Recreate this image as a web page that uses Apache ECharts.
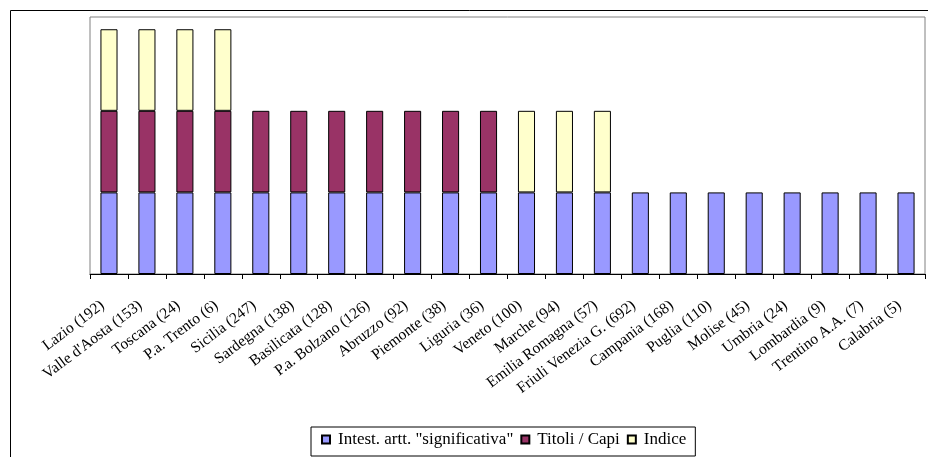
<!DOCTYPE html>
<html>
<head>
<meta charset="utf-8">
<script src="https://cdn.jsdelivr.net/npm/echarts@6/dist/echarts.min.js"></script>
<style>
  html, body { margin: 0; padding: 0; background: #fff; }
  #chart { width: 928px; height: 457px; }
</style>
</head>
<body>
<div id="chart"></div>
<script>
// Regions (number of cases in brackets)
const categories = [
  "Lazio (192)", "Valle d'Aosta (153)", "Toscana (24)", "P.a. Trento (6)",
  "Sicilia (247)", "Sardegna (138)", "Basilicata (128)", "P.a. Bolzano (126)",
  "Abruzzo (92)", "Piemonte (38)", "Liguria (36)", "Veneto (100)",
  "Marche (94)", "Emilia Romagna (57)", "Friuli Venezia G. (692)", "Campania (168)",
  "Puglia (110)", "Molise (45)", "Umbria (24)", "Lombardia (9)",
  "Trentino A.A. (7)", "Calabria (5)"
];

// Presence of each element per region (1 = present, null = absent)
const intestazione = [1,1,1,1,1,1,1,1,1,1,1,1,1,1,1,1,1,1,1,1,1,1];
const titoliCapi   = [1,1,1,1,1,1,1,1,1,1,1,null,null,null,null,null,null,null,null,null,null,null];
const indice       = [1,1,1,1,null,null,null,null,null,null,null,1,1,1,null,null,null,null,null,null,null,null];

const seriesNames = ['Intest. artt. "significativa"', 'Titoli / Capi', 'Indice'];
const seriesColors = ['#9999FF', '#993366', '#FFFFCC'];
const seriesData = [intestazione, titoliCapi, indice];

const serifFont = '"Liberation Serif", "Times New Roman", serif';

const chart = echarts.init(document.getElementById('chart'), null, { renderer: 'canvas' });

chart.setOption({
  animation: false,
  backgroundColor: '#ffffff',
  graphic: [{
    type: 'rect',
    shape: { x: 10.5, y: 10.5, width: 940, height: 470 },
    style: { fill: 'none', stroke: '#000000', lineWidth: 1 },
    silent: true,
    z: -10
  }],
  grid: {
    left: 90, top: 17, right: 3, height: 257,
    show: true, borderColor: '#808080', borderWidth: 1, backgroundColor: 'transparent'
  },
  legend: {
    left: 311, top: 427,
    padding: [4, 9, 8, 10],
    borderColor: '#000000', borderWidth: 1,
    itemWidth: 8, itemHeight: 8, itemGap: 7,
    icon: 'rect',
    textStyle: { fontFamily: serifFont, fontSize: 17, color: '#000000', padding: [0, 0, 0, 3] },
    data: seriesNames
  },
  xAxis: {
    type: 'category',
    data: categories,
    axisLine: { lineStyle: { color: '#000000', width: 1 } },
    axisTick: { show: true, inside: false, length: 5, alignWithLabel: false, lineStyle: { color: '#000000' } },
    axisLabel: {
      interval: 0, rotate: 37, margin: 25,
      padding: [0, 8, 0, 0],
      fontFamily: serifFont, fontSize: 15.5, color: '#000000'
    }
  },
  yAxis: {
    type: 'value', min: 0, max: 3.15, show: false,
    splitLine: { show: false }
  },
  series: seriesNames.map((name, i) => ({
    name: name,
    type: 'bar',
    stack: 'total',
    barWidth: '45%',
    data: seriesData[i],
    itemStyle: { color: seriesColors[i], borderColor: '#000000', borderWidth: 1 }
  }))
});
</script>
</body>
</html>
